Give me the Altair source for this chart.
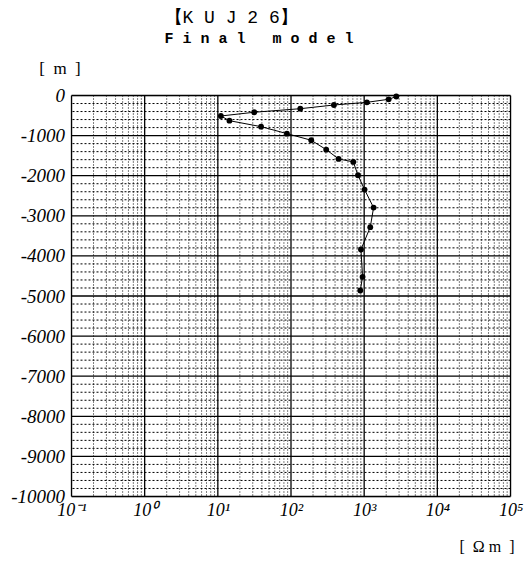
import altair as alt
import pandas as pd

# Resistivity model
rho = [2750, 2160, 1090, 386, 134, 31.4, 11.0, 14.4, 39, 88, 189, 303, 447,
       710, 823, 1012, 1345, 1211, 904, 951, 885]
depth = [-25, -95, -170, -237, -329, -418, -511, -628, -777, -951, -1116,
         -1350, -1582, -1656, -1988, -2346, -2795, -3283, -3840, -4521, -4862]

x_ticks = [0.1, 1, 10, 100, 1000, 10000, 100000]
x_tick_labels = ["10⁻¹", "10⁰", "10¹", "10²", "10³", "10⁴", "10⁵"]
y_ticks = [0, -1000, -2000, -3000, -4000, -5000, -6000, -7000, -8000, -9000, -10000]

x_minor = [k * 10.0 ** d for d in range(-1, 5) for k in range(2, 10)]
y_minor = [-v for v in range(200, 10000, 200) if v % 1000 != 0]

df = pd.DataFrame({"rho": rho, "depth": depth, "i": list(range(len(rho)))})

xs = alt.Scale(type="log", domain=[0.1, 100000], nice=False)
ys = alt.Scale(domain=[-10000, 0], nice=False, zero=False)

serif = "Liberation Serif"

x_label_expr = "{" + ",".join(f"'{i}':'{l}'" for i, l in enumerate(x_tick_labels)) + "}[''+(round(log(datum.value)/LN10)+1)]"

x_axis = alt.Axis(values=x_ticks, labelExpr=x_label_expr, grid=False, ticks=False,
                  domain=False, labelFont=serif, labelFontStyle="italic",
                  labelFontSize=18, labelColor="black", labelPadding=5,
                  labelFlush=False, labelOverlap=False,
                  title="[\u00a0\u00a0Ω\u00a0m\u00a0\u00a0]", titleFont=serif,
                  titleFontSize=16, titleFontWeight="normal", titleColor="black",
                  titleX=415, titleY=50, titleAlign="center", titleBaseline="middle",
                  titleAnchor="start")
y_axis = alt.Axis(values=y_ticks, labelExpr="'' + datum.value", grid=False,
                  ticks=False, domain=False,
                  labelFont=serif, labelFontStyle="italic", labelFontSize=19,
                  labelColor="black", labelPadding=7, labelFlush=False,
                  labelOverlap=False,
                  title="[\u00a0\u00a0m\u00a0\u00a0]", titleFont=serif, titleFontSize=17,
                  titleFontWeight="normal", titleColor="black", titleAngle=0,
                  titleX=-12, titleY=-27, titleAlign="center", titleBaseline="middle",
                  titleAnchor="start")

minor_x = alt.Chart(pd.DataFrame({"v": x_minor})).mark_rule(
    color="black", strokeWidth=1, strokeDash=[1, 2], opacity=1
).encode(x=alt.X("v:Q", scale=xs, axis=x_axis))

minor_y = alt.Chart(pd.DataFrame({"v": y_minor})).mark_rule(
    color="black", strokeWidth=1, strokeDash=[2, 2], opacity=1
).encode(y=alt.Y("v:Q", scale=ys, axis=y_axis))

major_x = alt.Chart(pd.DataFrame({"v": x_ticks})).mark_rule(
    color="black", strokeWidth=1.3
).encode(x=alt.X("v:Q", scale=xs, axis=x_axis))

major_y = alt.Chart(pd.DataFrame({"v": y_ticks})).mark_rule(
    color="black", strokeWidth=1.3
).encode(y=alt.Y("v:Q", scale=ys, axis=y_axis))

line = alt.Chart(df).mark_line(color="black", strokeWidth=1).encode(
    x=alt.X("rho:Q", scale=xs, axis=x_axis),
    y=alt.Y("depth:Q", scale=ys, axis=y_axis),
    order="i:O",
)

pts = alt.Chart(df).mark_point(filled=True, color="black", size=34, opacity=1).encode(
    x=alt.X("rho:Q", scale=xs, axis=x_axis),
    y=alt.Y("depth:Q", scale=ys, axis=y_axis),
)

chart = alt.layer(minor_x, minor_y, major_x, major_y, line, pts).properties(
    width=439,
    height=401,
    autosize=alt.AutoSizeParams(type="none"),
    padding={"left": 63.5, "top": 87.5, "right": 13.5, "bottom": 57.5},
    title=alt.TitleParams(
        text="【K\u00a0U\u00a0J\u00a02\u00a06】",
        subtitle="\u00a0F\u00a0i\u00a0n\u00a0a\u00a0l\u00a0\u00a0\u00a0m\u00a0o\u00a0d\u00a0e\u00a0l",
        anchor="start", frame="group", dx=93, font="Liberation Mono", fontSize=18,
        fontWeight="normal", color="black",
        subtitleFont="Liberation Mono", subtitleFontSize=15,
        subtitleFontWeight="bold", subtitleColor="black", subtitlePadding=4,
        offset=14,
    ),
).configure_view(stroke=None).configure(background="white")

chart.save("out.html", embed_options={"renderer": "svg", "actions": False})
